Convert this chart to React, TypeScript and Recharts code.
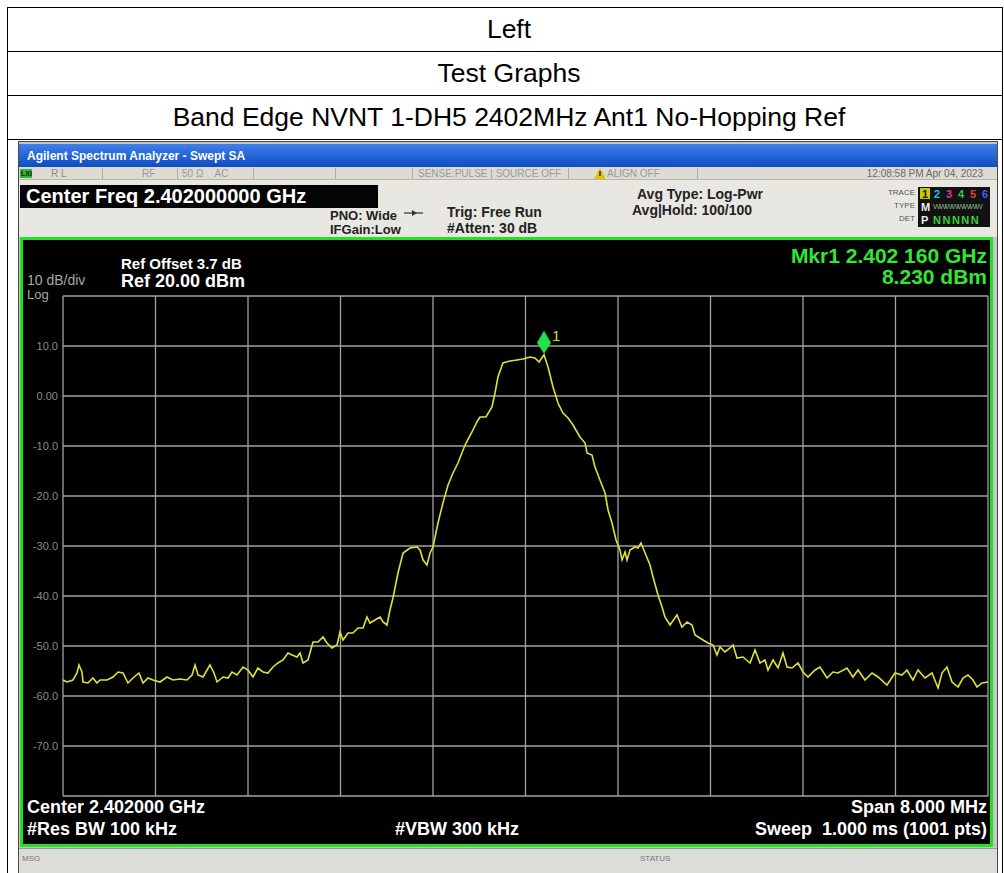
import React from "react";
import { LineChart, Line, XAxis, YAxis, CartesianGrid, ReferenceDot } from "recharts";

const FONT = "'Liberation Sans', Arial, Helvetica, sans-serif";

// trace: frequency (MHz) and level (dBm)
const freqMHz = [
  2398.0, 2398.035, 2398.086, 2398.121, 2398.138, 2398.164, 2398.173, 2398.216, 2398.259, 2398.294,
  2398.32, 2398.381, 2398.432, 2398.476, 2398.519, 2398.562, 2398.605, 2398.657, 2398.692, 2398.735,
  2398.778, 2398.839, 2398.899, 2398.951, 2399.012, 2399.072, 2399.116, 2399.142, 2399.168, 2399.211,
  2399.271, 2399.306, 2399.332, 2399.384, 2399.427, 2399.462, 2399.505, 2399.557, 2399.6, 2399.643,
  2399.686, 2399.73, 2399.773, 2399.816, 2399.859, 2399.903, 2399.946, 2399.981, 2400.024, 2400.05,
  2400.076, 2400.119, 2400.162, 2400.205, 2400.249, 2400.283, 2400.326, 2400.37, 2400.396, 2400.422,
  2400.465, 2400.508, 2400.551, 2400.595, 2400.629, 2400.655, 2400.698, 2400.742, 2400.768, 2400.802,
  2400.828, 2400.854, 2400.897, 2400.941, 2401.001, 2401.062, 2401.088, 2401.114, 2401.148, 2401.174,
  2401.2, 2401.243, 2401.286, 2401.33, 2401.373, 2401.416, 2401.477, 2401.537, 2401.58, 2401.606,
  2401.658, 2401.71, 2401.736, 2401.762, 2401.805, 2401.866, 2401.926, 2401.978, 2402.039, 2402.082,
  2402.117, 2402.16, 2402.195, 2402.238, 2402.281, 2402.324, 2402.368, 2402.411, 2402.471, 2402.515,
  2402.532, 2402.575, 2402.601, 2402.644, 2402.688, 2402.714, 2402.748, 2402.783, 2402.817, 2402.835,
  2402.861, 2402.878, 2402.904, 2402.947, 2402.973, 2402.999, 2403.034, 2403.077, 2403.103, 2403.146,
  2403.181, 2403.206, 2403.25, 2403.31, 2403.353, 2403.397, 2403.44, 2403.466, 2403.535, 2403.578,
  2403.622, 2403.656, 2403.682, 2403.725, 2403.769, 2403.795, 2403.829, 2403.881, 2403.942, 2403.985,
  2404.028, 2404.071, 2404.097, 2404.141, 2404.184, 2404.227, 2404.262, 2404.305, 2404.357, 2404.4,
  2404.443, 2404.504, 2404.547, 2404.608, 2404.659, 2404.703, 2404.78, 2404.832, 2404.876, 2404.936,
  2404.997, 2405.049, 2405.126, 2405.196, 2405.256, 2405.299, 2405.351, 2405.395, 2405.455, 2405.516,
  2405.568, 2405.602, 2405.645, 2405.689, 2405.741, 2405.784, 2405.827, 2405.87, 2405.905, 2405.948,
  2406.0,
];

const levelDbm = [
  -56.8, -57.2, -56.8, -55.4, -53.8, -55.2, -57.2, -57.4, -56.4, -57.4,
  -56.8, -56.8, -56.2, -55.2, -55.4, -57.4, -56.4, -55.4, -57.4, -56.4,
  -56.8, -57.2, -56.2, -56.8, -56.6, -56.8, -55.8, -53.8, -55.8, -56.2,
  -53.8, -55.4, -57.2, -56.2, -56.4, -55.2, -55.8, -54.2, -54.8, -56.2,
  -54.4, -55.2, -55.4, -54.2, -53.4, -52.8, -51.4, -51.8, -52.2, -51.4,
  -53.4, -52.8, -49.2, -49.2, -48.2, -49.4, -50.4, -49.8, -47.2, -48.8,
  -47.4, -47.4, -46.4, -46.4, -44.2, -45.4, -44.8, -44.2, -45.2, -45.8,
  -42.8, -40.4, -35.4, -31.4, -30.4, -30.2, -30.8, -32.8, -33.8, -31.4,
  -30.2, -25.4, -21.4, -17.8, -15.4, -13.4, -9.8, -7.2, -5.2, -4.2,
  -4.2, -2.2, 0.6, 3.8, 6.6, 7.0, 7.2, 7.4, 7.8, 7.6,
  6.8, 8.23, 5.8, 1.8, -1.4, -3.4, -4.4, -5.8, -8.2, -9.4,
  -11.4, -11.8, -14.2, -16.8, -19.4, -22.8, -25.4, -28.8, -30.8, -32.8,
  -31.2, -32.8, -30.8, -30.2, -30.4, -29.4, -31.4, -33.8, -36.2, -39.8,
  -42.2, -44.2, -45.8, -43.8, -46.2, -45.2, -45.8, -47.8, -48.8, -49.4,
  -49.8, -51.8, -50.2, -51.2, -50.4, -49.8, -52.4, -52.2, -53.4, -50.8,
  -53.4, -52.8, -54.8, -52.8, -54.4, -51.4, -54.2, -54.4, -53.4, -55.2,
  -56.2, -54.8, -54.2, -56.4, -55.2, -55.4, -54.4, -56.2, -54.8, -56.8,
  -55.4, -56.2, -57.8, -55.4, -55.8, -54.8, -56.8, -54.8, -56.4, -55.4,
  -58.4, -55.4, -54.2, -57.2, -58.2, -56.4, -55.8, -56.8, -58.2, -57.4,
  -57.2,
];

const xTicks = [2398, 2398.8, 2399.6, 2400.4, 2401.2, 2402, 2402.8, 2403.6, 2404.4, 2405.2, 2406];
const yTicks = [20, 10, 0, -10, -20, -30, -40, -50, -60, -70, -80];

const markerFreq = 2402.16;
const markerLevel = 8.23;

const traceData = freqMHz.map((f, i) => ({ freq: f, level: levelDbm[i] }));

function Txt({ x, y, size, color = "#fff", bold = false, align = "left", children, style }: any) {
  const pos =
    align === "right"
      ? { right: 1004 - x }
      : align === "center"
      ? { left: x, transform: "translateX(-50%)" }
      : { left: x };
  return (
    <div
      style={{
        position: "absolute",
        top: y - size / 2,
        ...pos,
        fontSize: size,
        lineHeight: `${size}px`,
        fontWeight: bold ? 700 : 400,
        color,
        whiteSpace: "nowrap",
        fontFamily: FONT,
        ...style,
      }}
    >
      {children}
    </div>
  );
}

const Box = ({ x, y, w, h, style }: any) => (
  <div style={{ position: "absolute", left: x, top: y, width: w, height: h, boxSizing: "border-box", ...style }} />
);

const renderYTick = (props: any) => {
  const { x, y, payload } = props;
  const v = payload.value;
  if (v === 20 || v === -80) return <g />;
  return (
    <text x={x} y={y} dy={4} textAnchor="end" fill="#8a8a8a" fontSize={11} fontFamily={FONT}>
      {v === 0 ? "0.00" : v.toFixed(1)}
    </text>
  );
};

const renderMarker = (props: any) => {
  const { cx, cy } = props;
  return (
    <g>
      <polygon
        points={`${cx},${cy - 1} ${cx + 7},${cy - 12} ${cx},${cy - 24} ${cx - 7},${cy - 12}`}
        fill="#22e04a"
      />
      <text x={cx + 8} y={cy - 14} fill="#d8dc30" fontSize={15} fontFamily={FONT}>
        1
      </text>
    </g>
  );
};

function Analyzer() {
  const traceColors = ["#1a1a1a", "#22c4e4", "#e02ca8", "#3ec43e", "#e0403c", "#3c5cff"];
  return (
    <>
      {/* bezel */}
      <Box x={18} y={141} w={980} h={740} style={{ background: "#c6c6c2", border: "1px solid #4a4a4a" }} />
      {/* title bar */}
      <Box x={19} y={144} w={978} h={23} style={{ background: "linear-gradient(to bottom, #3f80ea, #0d4cc2)" }} />
      <Txt x={27} y={156} size={12} bold>
        Agilent Spectrum Analyzer - Swept SA
      </Txt>
      {/* status row */}
      <Box x={19} y={167} w={978} h={13} style={{ background: "#dedbd2", borderBottom: "1px solid #b8b6ae" }} />
      <Box x={20} y={169} w={12} h={9} style={{ background: "#2fb52f" }} />
      <Txt x={21} y={173.5} size={7} color="#111" bold>
        LXI
      </Txt>
      <Txt x={51} y={174} size={10} color="#8a8a8a">
        R L
      </Txt>
      <Txt x={142} y={174} size={10} color="#9a9a9a">
        RF
      </Txt>
      <Txt x={182} y={174} size={10} color="#9a9a9a">
        50 Ω&nbsp;&nbsp;&nbsp;&nbsp;AC
      </Txt>
      <Txt x={418} y={174} size={10} color="#9a9a9a">
        SENSE:PULSE | SOURCE OFF
      </Txt>
      <svg style={{ position: "absolute", left: 594, top: 168 }} width={12} height={11}>
        <polygon points="6,0 12,11 0,11" fill="#e4c200" />
        <rect x={5.3} y={3} width={1.4} height={5} fill="#222" />
      </svg>
      <Txt x={607} y={174} size={10} color="#9a9a9a">
        ALIGN OFF
      </Txt>
      {[102, 177, 253, 335, 412, 568, 697].map((sx) => (
        <Box key={sx} x={sx} y={168} w={1} h={11} style={{ background: "#b0aea6" }} />
      ))}
      <Txt x={983} y={174} size={10} color="#6a6a6a" align="right">
        12:08:58 PM Apr 04, 2023
      </Txt>
      {/* settings panel */}
      <Box x={19} y={180} w={978} h={57} style={{ background: "#e8e7e1" }} />
      <Box x={20} y={185} w={358} h={23} style={{ background: "#050505" }} />
      <Txt x={26} y={196} size={20} bold>
        Center Freq 2.402000000 GHz
      </Txt>
      <Txt x={330} y={215} size={13} bold color="#222">
        PNO: Wide
      </Txt>
      <Txt x={330} y={229} size={13} bold color="#222">
        IFGain:Low
      </Txt>
      <svg style={{ position: "absolute", left: 404, top: 209 }} width={20} height={8}>
        <line x1={0} y1={4} x2={19} y2={4} stroke="#333" strokeWidth={1.2} />
        <polygon points="8,1 13,4 8,7" fill="#333" />
      </svg>
      <Txt x={447} y={212} size={14} bold color="#222">
        Trig: Free Run
      </Txt>
      <Txt x={447} y={228} size={14} bold color="#222">
        #Atten: 30 dB
      </Txt>
      <Txt x={637} y={194} size={14} bold color="#222">
        Avg Type: Log-Pwr
      </Txt>
      <Txt x={632} y={210} size={14} bold color="#222">
        Avg|Hold: 100/100
      </Txt>
      <Txt x={915} y={193} size={8} color="#555" align="right">
        TRACE
      </Txt>
      <Txt x={915} y={206} size={8} color="#555" align="right">
        TYPE
      </Txt>
      <Txt x={915} y={219} size={8} color="#555" align="right">
        DET
      </Txt>
      <Box x={918} y={187} w={72} h={40} style={{ background: "#121212" }} />
      <Box x={920} y={188} w={10} h={11} style={{ background: "#c8c800" }} />
      {["1", "2", "3", "4", "5", "6"].map((d, i) => (
        <Txt key={d} x={922 + i * 12} y={194} size={11} bold color={traceColors[i]}>
          {d}
        </Txt>
      ))}
      <Txt x={921} y={207} size={11} bold color="#eee">
        M
      </Txt>
      <Txt x={933} y={207} size={8} color="#8ab08a" style={{ letterSpacing: -1.5, width: 56, overflow: "hidden" }}>
        WWWWWWWW
      </Txt>
      <Txt x={921} y={220} size={11} bold color="#eee">
        P
      </Txt>
      <Txt x={933} y={220} size={11} bold color="#3ccf3c" style={{ letterSpacing: 1.5 }}>
        NNNNN
      </Txt>
      {/* screen */}
      <Box x={20} y={237} w={973} h={610} style={{ background: "#000", border: "3px solid #22e022" }} />
      <div style={{ position: "absolute", left: 20, top: 238 }}>
        <LineChart width={970} height={608} data={traceData} margin={{ top: 58, right: 2, bottom: 50, left: 0 }}>
          <CartesianGrid stroke="#a2a2a2" strokeWidth={1.3} horizontal vertical />
          <XAxis dataKey="freq" type="number" domain={[2398, 2406]} ticks={xTicks} hide />
          <YAxis
            type="number"
            domain={[-80, 20]}
            ticks={yTicks}
            width={43}
            axisLine={false}
            tickLine={false}
            tickSize={0}
            tickMargin={5}
            tick={renderYTick}
            interval={0}
          />
          <Line
            type="linear"
            dataKey="level"
            stroke="#dfe03a"
            strokeWidth={1.6}
            dot={false}
            isAnimationActive={false}
          />
          <ReferenceDot x={markerFreq} y={markerLevel} shape={renderMarker} ifOverflow="visible" />
        </LineChart>
      </div>
      <Txt x={121} y={263} size={15} bold>
        Ref Offset 3.7 dB
      </Txt>
      <Txt x={27} y={280} size={14} color="#a8a8a8">
        10 dB/div
      </Txt>
      <Txt x={121} y={281} size={18} bold>
        Ref 20.00 dBm
      </Txt>
      <Txt x={27} y={294} size={13} color="#a8a8a8">
        Log
      </Txt>
      <Txt x={987} y={255} size={21} bold color="#33e633" align="right">
        Mkr1 2.402 160 GHz
      </Txt>
      <Txt x={987} y={276} size={21} bold color="#33e633" align="right">
        8.230 dBm
      </Txt>
      <Txt x={27} y={807} size={18} bold>
        Center 2.402000 GHz
      </Txt>
      <Txt x={27} y={829} size={18} bold>
        #Res BW 100 kHz
      </Txt>
      <Txt x={395} y={829} size={18} bold>
        #VBW 300 kHz
      </Txt>
      <Txt x={987} y={807} size={18} bold align="right">
        Span 8.000 MHz
      </Txt>
      <Txt x={987} y={829} size={18} bold align="right">
        Sweep&nbsp;&nbsp;1.000 ms (1001 pts)
      </Txt>
      {/* message bar */}
      <Box x={19} y={848} w={978} h={30} style={{ background: "#dcdcd8", borderTop: "1px solid #9a9a9a" }} />
      <Txt x={22} y={859} size={8} color="#777">
        MSG
      </Txt>
      <Txt x={640} y={859} size={8} color="#777">
        STATUS
      </Txt>
    </>
  );
}

export default function App() {
  return (
    <div
      style={{
        position: "absolute",
        left: 0,
        top: 0,
        width: 1004,
        height: 873,
        overflow: "hidden",
        background: "#fff",
        fontFamily: FONT,
      }}
    >
      <Box x={7} y={7} w={996} h={900} style={{ border: "1px solid #000" }} />
      <Box x={7} y={51} w={996} h={1} style={{ background: "#000" }} />
      <Box x={7} y={95} w={996} h={1} style={{ background: "#000" }} />
      <Box x={7} y={139} w={996} h={1} style={{ background: "#000" }} />
      <Txt x={509} y={29} size={26.5} color="#000" align="center">
        Left
      </Txt>
      <Txt x={509} y={73} size={26.5} color="#000" align="center">
        Test Graphs
      </Txt>
      <Txt x={509} y={117} size={26.5} color="#000" align="center">
        Band Edge NVNT 1-DH5 2402MHz Ant1 No-Hopping Ref
      </Txt>
      <Analyzer />
    </div>
  );
}
